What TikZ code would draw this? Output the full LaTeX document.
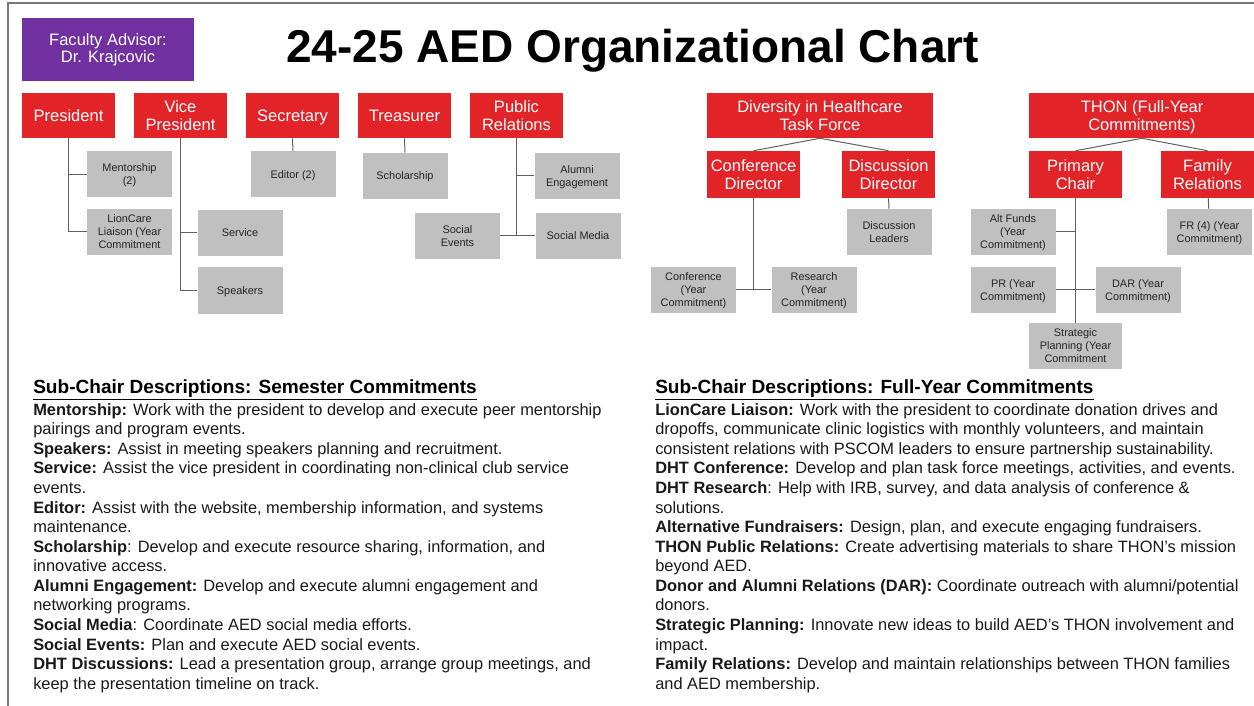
\documentclass[tikz,border=0pt]{standalone}
\usepackage{fontspec}
\setmainfont{Liberation Sans}
\usetikzlibrary{positioning}

\definecolor{aedred}{RGB}{226,35,40}
\definecolor{aedgray}{RGB}{192,192,192}
\definecolor{aedpurple}{RGB}{112,48,160}
\definecolor{aedline}{RGB}{95,95,95}
\definecolor{aedtext}{RGB}{35,35,35}
\definecolor{framegray}{RGB}{120,120,120}

\begin{document}
\begin{tikzpicture}[
    x=0.75pt,y=-0.75pt,
    officer/.style={
        fill=aedred,
        text=white,
        minimum width=69.75pt,
        minimum height=33.75pt,
        inner sep=1pt,
        align=center,
        text height=11.6pt,
        text depth=2.7pt,
        font=\fontsize{12.4}{13.5}\selectfont
    },
    officer2/.style={officer, text height=25.1pt},
    chair/.style={
        fill=aedgray,
        text=aedtext,
        minimum width=63.75pt,
        minimum height=34.5pt,
        inner sep=1pt,
        align=center,
        text height=7.67pt,
        text depth=1.8pt,
        font=\fontsize{8.2}{9.8}\selectfont
    },
    chair2/.style={chair, text height=17.47pt},
    chair3/.style={chair, text height=27.27pt},
    link/.style={
        draw=aedline,
        line width=0.75pt
    },
    head/.style={
        anchor=base west,
        inner sep=0pt,
        font=\bfseries\fontsize{14.3}{16}\selectfont
    },
    desc/.style={
        anchor=north west,
        inner sep=0pt,
        align=left,
        text=black!90,
        font=\fontsize{12.3}{14.68}\selectfont
    }
]
\useasboundingbox (0,0) rectangle (1254,706);
\draw[draw=framegray, line width=1.5pt] (8,706) -- (8,3) -- (1254,3);

% ====== title ======
\node[fill=aedpurple, text=white, minimum width=129pt, minimum height=47.25pt,
      align=center, font=\fontsize{12.4}{13.1}\selectfont] (advisor) at (108,49.5)
      {Faculty Advisor:\\Dr. Krajcovic};
\node[anchor=base, inner sep=0pt, font=\bfseries\fontsize{34.5}{40}\selectfont] (title) at (632.5,63)
      {24-25 AED Organizational Chart};

% ====== officers ======
\node[officer]  (pres)   at ( 68.5,115.5) {President};
\node[officer2] (vp)     at (180.5,115.5) {Vice\\President};
\node[officer]  (sec)    at (292.5,115.5) {Secretary};
\node[officer]  (treas)  at (404.5,115.5) {Treasurer};
\node[officer2] (pubrel) at (516.5,115.5) {Public\\Relations};

% president
\node[chair2] (mentor) at (129.5,174.5) {Mentorship\\(2)};
\node[chair3] (lion)   at (129.5,232)   {LionCare\\Liaison (Year\\Commitment};
\draw[link] (pres.south) |- (mentor.west);
\draw[link] (pres.south) |- (lion.west);

% vice president
\node[chair] (service)  at (240,233)   {Service};
\node[chair] (speakers) at (240,290.5) {Speakers};
\draw[link] (vp.south) |- (service.west);
\draw[link] (vp.south) |- (speakers.west);

% secretary, treasurer
\node[chair] (editor)  at (293,174.5) {Editor (2)};
\node[chair] (scholar) at (405,176)   {Scholarship};
\draw[link] (sec) -- (editor);
\draw[link] (treas) -- (scholar);

% public relations
\node[chair2] (alumni)    at (577,176)   {Alumni\\Engagement};
\node[chair2] (socevents) at (457.5,236) {Social\\Events};
\node[chair]  (socmedia)  at (578,236)   {Social Media};
\draw[link] (pubrel.south) |- (alumni.west);
\draw[link] (pubrel.south) |- (socmedia.west);
\draw[link] (socevents.east) -- (socmedia.west);

% ====== diversity in healthcare ======
\node[officer2, minimum width=169.5pt] (dhtf) at (820,115.5) {Diversity in Healthcare\\Task Force};
\node[officer2, minimum height=35.25pt] (confdir) at (753.5,174.5) {Conference\\Director};
\node[officer2, minimum height=35.25pt] (discdir) at (888.5,174.5) {Discussion\\Director};
\draw[link] (dhtf.south) -- (confdir.north);
\draw[link] (dhtf.south) -- (discdir.north);

\node[chair2] (discleaders) at (889,232)   {Discussion\\Leaders};
\node[chair3] (conference)  at (693.5,290) {Conference\\(Year\\Commitment)};
\node[chair3] (research)    at (814,290)   {Research\\(Year\\Commitment)};
\draw[link] (discdir) -- (discleaders);
\draw[link] (confdir.south) |- (conference.east);
\draw[link] (confdir.south) |- (research.west);

% ====== thon ======
\node[officer2, minimum width=169.5pt] (thon) at (1142,115.5) {THON (Full-Year\\Commitments)};
\node[officer2, minimum height=35.25pt] (primary) at (1075.5,174.5) {Primary\\Chair};
\node[officer2, minimum height=35.25pt] (family)  at (1207.5,174.5) {Family\\Relations};
\draw[link] (thon.south) -- (primary.north);
\draw[link] (thon.south) -- (family.north);

\node[chair3] (altfunds)  at (1013,232)   {Alt Funds\\(Year\\Commitment)};
\node[chair2] (frfour)    at (1209.5,232) {FR (4) (Year\\Commitment)};
\node[chair2] (thonpr)    at (1013,290)   {PR (Year\\Commitment)};
\node[chair2] (dar)       at (1138,290)   {DAR (Year\\Commitment)};
\node[chair3, minimum width=69.75pt] (strategic) at (1075.5,346) {Strategic\\Planning (Year\\Commitment};
\draw[link] (primary) -- (strategic);
\draw[link] (primary.south) |- (altfunds.east);
\draw[link] (primary.south) |- (thonpr.east);
\draw[link] (primary.south) |- (dar.west);
\draw[link] (family) -- (frfour);

% ====== descriptions ======
\node[head] (semhead) at (33,393) {\underline{Sub-Chair Descriptions: Semester Commitments}};
\node[desc] (semtext) at (33,403) {%
\textbf{Mentorship:} Work with the president to develop and execute peer mentorship\\
pairings and program events.\\
\textbf{Speakers:} Assist in meeting speakers planning and recruitment.\\
\textbf{Service:} Assist the vice president in coordinating non-clinical club service\\
events.\\
\textbf{Editor:} Assist with the website, membership information, and systems\\
maintenance.\\
\textbf{Scholarship}: Develop and execute resource sharing, information, and\\
innovative access.\\
\textbf{Alumni Engagement:} Develop and execute alumni engagement and\\
networking programs.\\
\textbf{Social Media}: Coordinate AED social media efforts.\\
\textbf{Social Events:} Plan and execute AED social events.\\
\textbf{DHT Discussions:} Lead a presentation group, arrange group meetings, and\\
keep the presentation timeline on track.};

\node[head] (yearhead) at (655,393) {\underline{Sub-Chair Descriptions: Full-Year Commitments}};
\node[desc] (yeartext) at (655,403) {%
\textbf{LionCare Liaison:} Work with the president to coordinate donation drives and\\
dropoffs, communicate clinic logistics with monthly volunteers, and maintain\\
consistent relations with PSCOM leaders to ensure partnership sustainability.\\
\textbf{DHT Conference:} Develop and plan task force meetings, activities, and events.\\
\textbf{DHT Research}: Help with IRB, survey, and data analysis of conference \&\\
solutions.\\
\textbf{Alternative Fundraisers:} Design, plan, and execute engaging fundraisers.\\
\textbf{THON Public Relations:} Create advertising materials to share THON's mission\\
beyond AED.\\
\textbf{Donor and Alumni Relations (DAR):} Coordinate outreach with alumni/potential\\
donors.\\
\textbf{Strategic Planning:} Innovate new ideas to build AED's THON involvement and\\
impact.\\
\textbf{Family Relations:} Develop and maintain relationships between THON families\\
and AED membership.};

\end{tikzpicture}
\end{document}
